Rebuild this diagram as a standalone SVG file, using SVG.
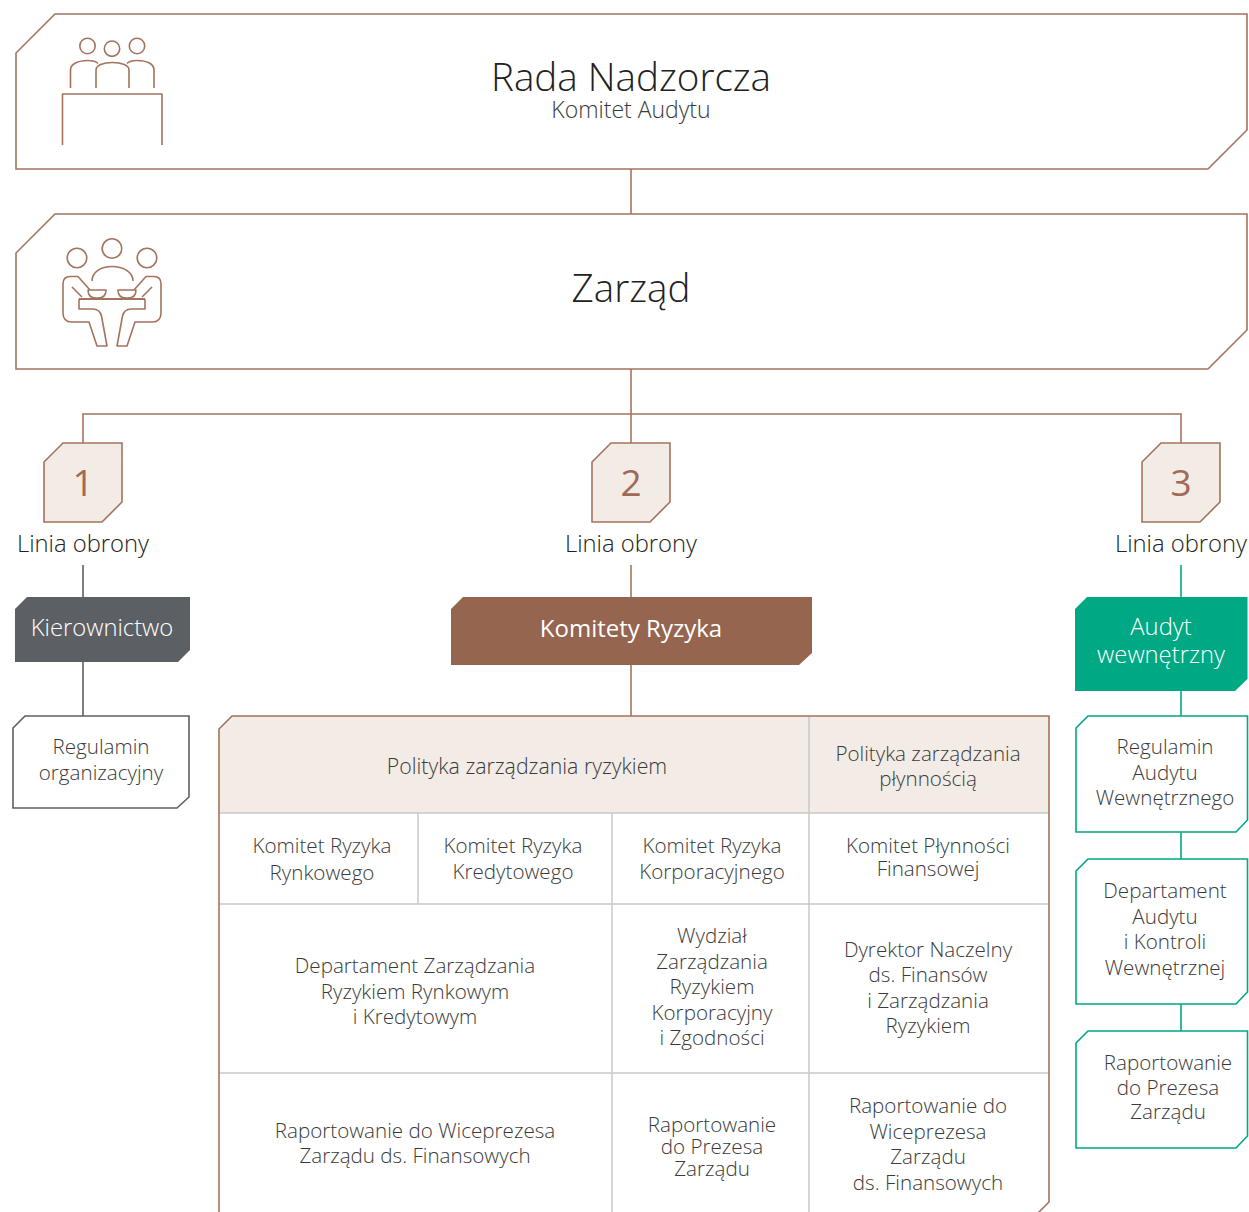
<svg xmlns="http://www.w3.org/2000/svg" width="1249" height="1212" viewBox="0 0 1249 1212">
<style>
text{font-family:"Open Sans","Liberation Sans",sans-serif;font-weight:300;fill:#3a3a3a;text-anchor:middle}
.bx{fill:#fff;stroke:#a4735d;stroke-width:1.6}
.num{fill:#f3ebe5;stroke:#a4735d;stroke-width:1.6}
.ic{fill:none;stroke:#a4735d;stroke-width:1.6;stroke-linejoin:round}
.lb{stroke:#a4735d;stroke-width:1.6;fill:none}
.lg{stroke:#5c5f63;stroke-width:1.6;fill:none}
.lt{stroke:#00a884;stroke-width:1.6;fill:none}
.grid{stroke:#c9c9c9;stroke-width:1.5;fill:none}
.w{fill:#fff}
.t20{font-size:20.6px}
.t22{font-size:23.8px}
.n{font-size:37px;fill:#a06a55;font-weight:400}
</style>
<g id="connectors">
<line class="lb" x1="631" y1="169" x2="631" y2="214"/>
<line class="lb" x1="631" y1="369" x2="631" y2="443"/>
<polyline class="lb" points="83,443 83,414 1181,414 1181,443"/>
<line class="lg" x1="83" y1="565" x2="83" y2="597"/>
<line class="lg" x1="83" y1="662" x2="83" y2="716"/>
<line class="lb" x1="631" y1="565" x2="631" y2="597"/>
<line class="lb" x1="631" y1="665" x2="631" y2="716"/>
<line class="lt" x1="1181" y1="565" x2="1181" y2="597"/>
<line class="lt" x1="1181" y1="691" x2="1181" y2="716"/>
<line class="lt" x1="1181" y1="832" x2="1181" y2="859"/>
<line class="lt" x1="1181" y1="1004" x2="1181" y2="1031"/>
</g>
<g id="rada">
<polygon class="bx" points="55,14 1247,14 1247,130 1208,169 16,169 16,53"/>
<circle class="ic" cx="87.5" cy="46" r="7.7"/>
<circle class="ic" cx="112" cy="48.7" r="7.7"/>
<circle class="ic" cx="137" cy="46" r="7.7"/>
<path class="ic" d="M70.5,88 V70 C70.5,64 78,60.5 88,60.5 C93,60.5 96,61.5 98,63.5"/>
<path class="ic" d="M96,88 V70 C96,65.5 103,62.5 112.5,62.5 C122,62.5 129,65.5 129,70 V88"/>
<path class="ic" d="M127,63.5 C129,61.5 132,60.5 137,60.5 C147,60.5 154,64 154,70 V88"/>
<path class="ic" d="M62.5,145 V94 H162 V145"/>
<text x="631" y="91" style="font-size:38.6px;fill:#222">Rada Nadzorcza</text>
<text x="631" y="118" style="font-size:23px">Komitet Audytu</text>
</g>
<g id="zarzad">
<polygon class="bx" points="55,214 1247,214 1247,330 1208,369 16,369 16,253"/>
<circle class="ic" cx="112" cy="248.5" r="9.8"/>
<circle class="ic" cx="77" cy="258" r="9.8"/>
<circle class="ic" cx="147" cy="258" r="9.8"/>
<path class="ic" d="M92,281 C92,272 101,266.5 112,266.5 C123,266.5 133,272 133,281"/>
<g id="person-left">
<path class="ic" d="M90,290 L78,276.5 H70 Q63,276.5 63,284 V313 Q63,322 72,322 H89 L97,346 H107 L101.5,316 Q99.5,309 93,309 H79 V299"/>
<path class="ic" d="M72,287 L82,297"/>
<path class="ic" d="M88,290 H106 Q106,298 98,298 H96 Q88,298 88,290 Z"/>
</g>
<g transform="translate(224,0) scale(-1,1)">
<path class="ic" d="M90,290 L78,276.5 H70 Q63,276.5 63,284 V313 Q63,322 72,322 H89 L97,346 H107 L101.5,316 Q99.5,309 93,309 H79 V299"/>
<path class="ic" d="M72,287 L82,297"/>
<path class="ic" d="M88,290 H106 Q106,298 98,298 H96 Q88,298 88,290 Z"/>
</g>
<line class="ic" x1="79" y1="299" x2="145" y2="299" style="stroke-width:2.2"/>
<text x="631" y="302" style="font-size:38.6px;fill:#222">Zarząd</text>
</g>
<g id="linia1">
<polygon class="num" points="44,462 63,443 122,443 122,502 102,522 44,522"/>
<text x="83" y="496" class="n">1</text>
<text x="83" y="552" class="t22" style="fill:#222">Linia obrony</text>
</g>
<g id="linia2">
<polygon class="num" points="592,462 611,443 670,443 670,502 650,522 592,522"/>
<text x="631" y="496" class="n">2</text>
<text x="631" y="552" class="t22" style="fill:#222">Linia obrony</text>
</g>
<g id="linia3">
<polygon class="num" points="1142,462 1161,443 1220,443 1220,502 1200,522 1142,522"/>
<text x="1181" y="496" class="n">3</text>
<text x="1181" y="552" class="t22" style="fill:#222">Linia obrony</text>
</g>
<g id="kierownictwo">
<polygon points="15,609 27,597 190,597 190,650 178,662 15,662" fill="#5c5f63"/>
<text x="102" y="636" class="t22 w">Kierownictwo</text>
</g>
<g id="regulamin-org">
<polygon points="13,728 25,716 189,716 189,797 177,808 13,808" fill="#fff" stroke="#5c5f63" stroke-width="1.6"/>
<text x="101" y="754" class="t20">Regulamin</text>
<text x="101" y="780" class="t20">organizacyjny</text>
</g>
<g id="komitety">
<polygon points="451,609 463,597 812,597 812,653 799,665 451,665" fill="#96654f"/>
<text x="631" y="637" class="w" style="font-size:24px;font-weight:400">Komitety Ryzyka</text>
</g>
<g id="audyt">
<polygon points="1075,609 1087,597 1247.5,597 1247.5,679 1235,691 1075,691" fill="#00a884"/>
<text x="1161" y="635" class="t22 w">Audyt</text>
<text x="1161" y="663" class="t22 w">wewnętrzny</text>
</g>
<g id="regulamin-audytu">
<polygon points="1076,728 1088,716 1247.5,716 1247.5,820 1236,832 1076,832" fill="#fff" stroke="#00a884" stroke-width="1.6"/>
<text x="1165" y="754" class="t20">Regulamin</text>
<text x="1165" y="780" class="t20">Audytu</text>
<text x="1165" y="805" class="t20">Wewnętrznego</text>
</g>
<g id="departament-audytu">
<polygon points="1076,871 1088,859 1247.5,859 1247.5,992 1236,1004 1076,1004" fill="#fff" stroke="#00a884" stroke-width="1.6"/>
<text x="1165" y="898" class="t20">Departament</text>
<text x="1165" y="924" class="t20">Audytu</text>
<text x="1165" y="949" class="t20">i Kontroli</text>
<text x="1165" y="975" class="t20">Wewnętrznej</text>
</g>
<g id="raportowanie-audyt">
<polygon points="1076,1043 1088,1031 1247.5,1031 1247.5,1136 1236,1148 1076,1148" fill="#fff" stroke="#00a884" stroke-width="1.6"/>
<text x="1168" y="1070" class="t20">Raportowanie</text>
<text x="1168" y="1095" class="t20">do Prezesa</text>
<text x="1168" y="1119" class="t20">Zarządu</text>
</g>
<g id="tabela">
<polygon points="219,729 232,716 1049,716 1049,1202 1037,1214 219,1214" fill="#fff"/>
<polygon points="219,729 232,716 1049,716 1049,813 219,813" fill="#f3ebe5"/>
<line class="grid" x1="219" y1="813" x2="1049" y2="813"/>
<line class="grid" x1="219" y1="904" x2="1049" y2="904"/>
<line class="grid" x1="219" y1="1073" x2="1049" y2="1073"/>
<line class="grid" x1="809" y1="716" x2="809" y2="1214"/>
<line class="grid" x1="612" y1="813" x2="612" y2="1214"/>
<line class="grid" x1="418" y1="813" x2="418" y2="904"/>
<polygon points="219,729 232,716 1049,716 1049,1202 1037,1214 219,1214" fill="none" stroke="#a4735d" stroke-width="1.6"/>
<text x="527" y="774" style="font-size:21.3px">Polityka zarządzania ryzykiem</text>
<text x="928" y="761" class="t20">Polityka zarządzania</text>
<text x="928" y="786" class="t20">płynnością</text>
<text x="322" y="853" class="t20">Komitet Ryzyka</text>
<text x="322" y="880" class="t20">Rynkowego</text>
<text x="513" y="853" class="t20">Komitet Ryzyka</text>
<text x="513" y="879" class="t20">Kredytowego</text>
<text x="712" y="853" class="t20">Komitet Ryzyka</text>
<text x="712" y="879" class="t20">Korporacyjnego</text>
<text x="928" y="853" class="t20">Komitet Płynności</text>
<text x="928" y="876" class="t20">Finansowej</text>
<text x="415" y="973" class="t20">Departament Zarządzania</text>
<text x="415" y="999" class="t20">Ryzykiem Rynkowym</text>
<text x="415" y="1024" class="t20">i Kredytowym</text>
<text x="712" y="943" class="t20">Wydział</text>
<text x="712" y="969" class="t20">Zarządzania</text>
<text x="712" y="994" class="t20">Ryzykiem</text>
<text x="712" y="1020" class="t20">Korporacyjny</text>
<text x="712" y="1045" class="t20">i Zgodności</text>
<text x="928" y="957" class="t20">Dyrektor Naczelny</text>
<text x="928" y="982" class="t20">ds. Finansów</text>
<text x="928" y="1008" class="t20">i Zarządzania</text>
<text x="928" y="1033" class="t20">Ryzykiem</text>
<text x="415" y="1138" class="t20">Raportowanie do Wiceprezesa</text>
<text x="415" y="1163" class="t20">Zarządu ds. Finansowych</text>
<text x="712" y="1132" class="t20">Raportowanie</text>
<text x="712" y="1154" class="t20">do Prezesa</text>
<text x="712" y="1176" class="t20">Zarządu</text>
<text x="928" y="1113" class="t20">Raportowanie do</text>
<text x="928" y="1139" class="t20">Wiceprezesa</text>
<text x="928" y="1164" class="t20">Zarządu</text>
<text x="928" y="1190" class="t20">ds. Finansowych</text>
</g>
</svg>
